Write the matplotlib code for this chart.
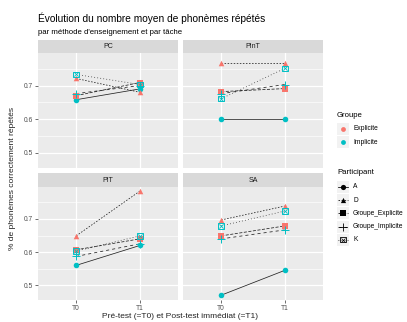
import numpy as np
import matplotlib.pyplot as plt
from matplotlib.lines import Line2D

plt.rcParams['font.family'] = ['Liberation Sans', 'DejaVu Sans']

tasks = ['PC', 'PInT', 'PIT', 'SA']
times = ['T0', 'T1']
participants = ['A', 'D', 'Groupe_Explicite', 'Groupe_Implicite', 'K']
groupe = ['Implicite', 'Explicite', 'Explicite', 'Implicite', 'Implicite']

# mean score per task (PC, PInT, PIT, SA) at T0 and T1
A_t0 = [0.658, 0.601, 0.560, 0.470]
A_t1 = [0.690, 0.601, 0.620, 0.545]
D_t0 = [0.721, 0.766, 0.649, 0.697]
D_t1 = [0.680, 0.766, 0.784, 0.739]
GE_t0 = [0.670, 0.682, 0.607, 0.649]
GE_t1 = [0.709, 0.691, 0.640, 0.679]
GI_t0 = [0.676, 0.676, 0.587, 0.640]
GI_t1 = [0.700, 0.703, 0.625, 0.667]
K_t0 = [0.733, 0.661, 0.603, 0.679]
K_t1 = [0.703, 0.751, 0.649, 0.724]

values = {
    'A': (A_t0, A_t1),
    'D': (D_t0, D_t1),
    'Groupe_Explicite': (GE_t0, GE_t1),
    'Groupe_Implicite': (GI_t0, GI_t1),
    'K': (K_t0, K_t1),
}

colors = {'Explicite': '#F8766D', 'Implicite': '#00BFC4'}
markers = {'A': 'o', 'D': '^', 'Groupe_Explicite': 's', 'Groupe_Implicite': '+', 'K': 'X'}
dashes = {'A': '-', 'D': (0, (2, 2)), 'Groupe_Explicite': (0, (4, 2)),
          'Groupe_Implicite': (0, (4, 4)), 'K': (0, (1, 3))}

W, H = 407, 322
fig = plt.figure(figsize=(W / 100, H / 100), dpi=100)


def box(x0, y0, x1, y1):
    return [x0 / W, 1 - y1 / H, (x1 - x0) / W, (y1 - y0) / H]


cols = [(38, 178), (183, 323)]
rows = [(40, 53, 168), (173, 187, 300)]

for i, task in enumerate(tasks):
    r, c = divmod(i, 2)
    xl, xr = cols[c]
    st, pt, pb = rows[r]
    ax = fig.add_axes(box(xl, pt, xr, pb))
    ax.set_facecolor('#EBEBEB')
    for s in ax.spines.values():
        s.set_visible(False)
    ax.set_xlim(0.4, 2.6)
    ax.set_ylim(0.4555, 0.7965)
    ax.set_yticks([0.5, 0.6, 0.7])
    ax.set_yticks([0.55, 0.65, 0.75], minor=True)
    ax.set_xticks([1, 2])
    ax.grid(True, which='major', color='white', lw=0.9)
    ax.grid(True, which='minor', axis='y', color='white', lw=0.45)
    ax.tick_params(which='minor', length=0)
    ax.tick_params(length=2, width=0.5, color='#333333', labelsize=4.8,
                   labelcolor='#4D4D4D', pad=1.5)
    ax.set_axisbelow(True)
    if r == 1:
        ax.set_xticklabels(times)
    else:
        ax.set_xticklabels([])
        ax.tick_params(axis='x', length=0)
    if c == 0:
        ax.set_yticklabels(['0.5', '0.6', '0.7'])
    else:
        ax.set_yticklabels([])
        ax.tick_params(axis='y', length=0)

    for p, g in zip(participants, groupe):
        t0, t1 = values[p]
        y = [t0[i], t1[i]]
        ax.plot([1, 2], y, color='#222222', lw=0.55, ls=dashes[p], zorder=2)
    for p, g in zip(participants, groupe):
        t0, t1 = values[p]
        y = [t0[i], t1[i]]
        m = markers[p]
        if m == 'X':
            ax.scatter([1, 2], y, marker='s', s=16, facecolors='none',
                       edgecolors=colors[g], linewidths=0.7, zorder=3)
            ax.scatter([1, 2], y, marker='x', s=9, color=colors[g],
                       linewidths=0.6, zorder=3)
        elif m == '+':
            ax.scatter([1, 2], y, marker='+', s=30, color=colors[g],
                       linewidths=0.7, zorder=3)
        else:
            ax.scatter([1, 2], y, marker=m, s=16, color=colors[g],
                       linewidths=0, zorder=3)

    sax = fig.add_axes(box(xl, st, xr, pt))
    sax.set_facecolor('#D9D9D9')
    sax.set_xticks([])
    sax.set_yticks([])
    for s in sax.spines.values():
        s.set_visible(False)
    sax.text(0.5, 0.5, task, ha='center', va='center', fontsize=5,
             color='#1A1A1A', transform=sax.transAxes)

fig.text(38 / W, 1 - 18 / H, 'Évolution du nombre moyen de phonèmes répétés',
         fontsize=7.3, va='center', ha='left', color='black')
fig.text(38 / W, 1 - 32 / H, "par méthode d'enseignement et par tâche",
         fontsize=5.6, va='center', ha='left', color='black')
fig.text(180 / W, 1 - 317 / H, 'Pré-test (=T0) et Post-test immédiat (=T1)',
         fontsize=6, va='center', ha='center', color='#222222')
fig.text(13 / W, 1 - 178 / H, '% de phonèmes correctement répétés',
         fontsize=6, va='center', ha='center', rotation=90, color='#222222')

# legends
lx = 337
fig.text(lx / W, 1 - 115 / H, 'Groupe', fontsize=5.6, va='center')
for k, (g, yy) in enumerate([('Explicite', 129), ('Implicite', 142)]):
    kax = fig.add_axes(box(lx, yy - 6, lx + 12, yy + 6))
    kax.set_facecolor('#F2F2F2')
    kax.set_xticks([]); kax.set_yticks([])
    for s in kax.spines.values():
        s.set_visible(False)
    kax.set_xlim(0, 1); kax.set_ylim(0, 1)
    kax.scatter([0.5], [0.5], s=12, color=colors[g], linewidths=0)
    fig.text((lx + 16) / W, 1 - yy / H, g, fontsize=4.8, va='center')

fig.text(lx / W, 1 - 172 / H, 'Participant', fontsize=5.6, va='center')
for k, p in enumerate(participants):
    yy = 187 + k * 13.2
    kax = fig.add_axes(box(lx, yy - 6, lx + 12, yy + 6))
    kax.set_facecolor('#F2F2F2')
    kax.set_xticks([]); kax.set_yticks([])
    for s in kax.spines.values():
        s.set_visible(False)
    kax.set_xlim(0, 1); kax.set_ylim(0, 1)
    kax.plot([0.05, 0.95], [0.5, 0.5], color='black', lw=0.55, ls=dashes[p])
    m = markers[p]
    if m == 'X':
        kax.scatter([0.5], [0.5], marker='s', s=14, facecolors='none',
                    edgecolors='black', linewidths=0.6)
        kax.scatter([0.5], [0.5], marker='x', s=8, color='black', linewidths=0.5)
    elif m == '+':
        kax.scatter([0.5], [0.5], marker='+', s=28, color='black', linewidths=0.6)
    else:
        kax.scatter([0.5], [0.5], marker=m, s=14, color='black', linewidths=0)
    fig.text((lx + 16) / W, 1 - yy / H, p, fontsize=4.8, va='center')

fig.savefig('out.png', dpi=100)
